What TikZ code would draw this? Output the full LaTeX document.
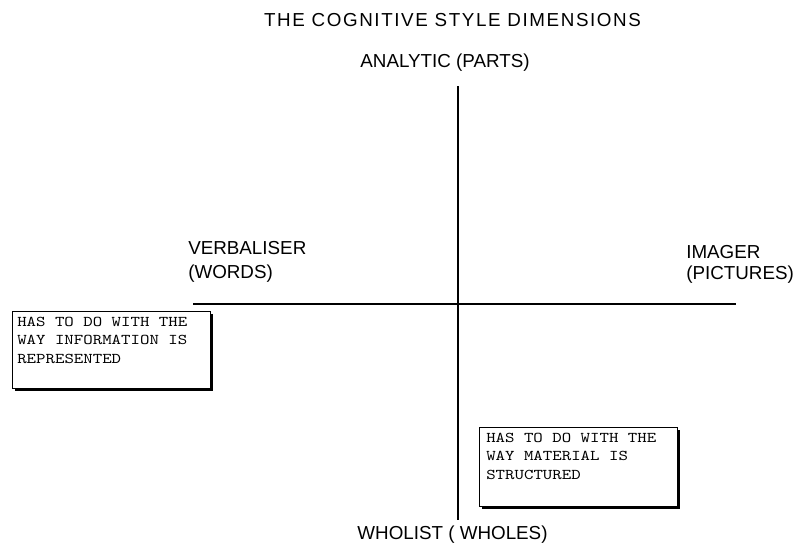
\documentclass[tikz,border=0pt]{standalone}
\usepackage{fontspec}
\setmainfont{Liberation Sans}
\newfontfamily\boxfont[Extension=.otf,FakeStretch=1.205]{lmmono10-regular}
\newfontfamily\titlefont[LetterSpace=8.5]{Liberation Sans}
\begin{document}
\begin{tikzpicture}[x=0.75pt,y=-0.75pt,
  axis/.style={line width=1.5pt,black},
  label/.style={inner sep=0pt,font=\fontsize{14.1}{17}\selectfont},
  notetext/.style={inner sep=0pt,anchor=north west,align=left,
    font=\boxfont\fontsize{11.2}{13.9}\selectfont},
  noteframe/.style={draw=black,line width=0.6pt,fill=white},
  shadowrect/.style={fill=black}]
\useasboundingbox (0,0) rectangle (793,544);

% axes
\coordinate (top) at (458,86);
\coordinate (bottom) at (458,520);
\coordinate (left) at (193,304);
\coordinate (right) at (736,304);
\draw[axis] (top) -- (bottom);
\draw[axis] (left) -- (right);

% labels
\node[label,anchor=base,font=\titlefont\fontsize{14.1}{17}\selectfont] (title) at (452.5,26) {THE COGNITIVE STYLE DIMENSIONS};
\node[label,anchor=base] (analytic) at (445,67) {ANALYTIC (PARTS)};
\node[label,anchor=base west] (verb1) at (188,254) {VERBALISER};
\node[label,anchor=base west] (verb2) at (188,278) {(WORDS)};
\node[label,anchor=base west] (img1) at (686,258) {IMAGER};
\node[label,anchor=base west] (img2) at (686,279) {(PICTURES)};
\node[label,anchor=base] (wholist) at (452.5,539) {WHOLIST ( WHOLES)};

% note boxes with drop shadows
\fill[shadowrect] (15,314) rectangle (213,391);
\draw[noteframe] (12,311) rectangle (210,388);
\node[notetext] (note1) at (17,316.5)
  {HAS TO DO WITH THE\\WAY INFORMATION IS\\REPRESENTED};

\fill[shadowrect] (482,430) rectangle (680,509);
\draw[noteframe] (479,427) rectangle (677,506);
\node[notetext] (note2) at (486,432.5)
  {HAS TO DO WITH THE\\WAY MATERIAL IS\\STRUCTURED};
\end{tikzpicture}
\end{document}
